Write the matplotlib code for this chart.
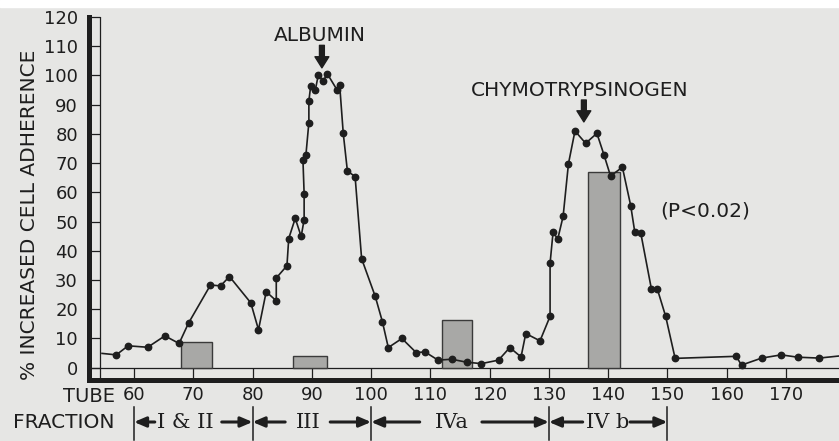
import matplotlib
matplotlib.use("Agg")
import matplotlib.pyplot as plt
from matplotlib.patches import Rectangle
from matplotlib.transforms import blended_transform_factory

plt.rcParams["font.family"] = ["DejaVu Sans"]

# ── data ─────────────────────────────────────────────────────────────────────
tube = [54.6, 57.0, 59.0, 62.3, 65.2, 67.6, 69.2, 72.9, 74.6, 76.1,
        79.7, 81.0, 82.3, 84.0, 84.0, 85.8, 86.1, 87.2, 88.2, 88.7,
        88.7, 88.5, 89.0, 89.5, 89.5, 89.8, 90.6, 91.1, 91.9, 92.6,
        94.3, 94.7, 95.3, 96.0, 97.3, 98.4, 100.7, 101.9, 102.9, 105.2,
        107.6, 109.1, 111.3, 113.6, 116.1, 118.6, 121.5, 123.4, 125.3, 126.1,
        128.5, 130.2, 130.2, 130.7, 131.5, 132.4, 133.3, 134.4, 136.2, 138.1,
        139.3, 140.4, 142.4, 143.8, 144.5, 145.5, 147.3, 148.3, 149.7, 151.3,
        161.6, 162.5, 165.9, 169.2, 172.0, 175.6, 178.9]
adherence = [4.9, 4.4, 7.5, 7.0, 10.9, 8.3, 15.3, 28.3, 28.0, 31.2,
             22.2, 13.0, 26.0, 22.9, 30.7, 34.9, 44.2, 51.1, 44.9, 50.7,
             59.5, 71.1, 72.8, 83.9, 91.3, 96.3, 95.1, 100.3, 98.0, 100.6,
             94.9, 96.6, 80.2, 67.3, 65.4, 37.3, 24.4, 15.8, 6.9, 10.0,
             5.2, 5.4, 2.6, 2.9, 1.9, 1.4, 2.6, 6.9, 3.7, 11.7,
             9.2, 17.6, 35.8, 46.3, 44.1, 51.8, 69.8, 81.0, 76.8, 80.2,
             72.8, 65.6, 68.6, 55.5, 46.3, 46.1, 26.9, 26.9, 17.6, 3.2,
             3.9, 0.9, 3.3, 4.4, 3.6, 3.3, 4.0]

# pooled fractions (bars)
bar_start  = [67.9, 86.9, 111.9, 136.6]
bar_end    = [73.2, 92.5, 117.1, 142.0]
bar_height = [8.7, 3.9, 16.5, 67.0]

yticks = list(range(0, 121, 10))
xticks = list(range(60, 171, 10))

frac_bounds = [60, 80, 100, 130, 150]
frac_labels = ["I & II", "III", "IVa", "IV b"]
frac_centers = [68.6, 89.4, 113.7, 139.9]
frac_tails = [(63.5, 74.8), (85.5, 93.1), (108.2, 118.7), (135.7, 143.7)]

INK = "#1e1e1e"
PAPER = "#e6e6e4"

# ── figure ───────────────────────────────────────────────────────────────────
fig = plt.figure(figsize=(8.39, 4.41), dpi=100, facecolor=PAPER)
fig.add_artist(Rectangle((0, 1 - 7 / 441), 1, 7 / 441, transform=fig.transFigure,
                         color="white", zorder=0))
ax = fig.add_axes([89 / 839, 1 - 380 / 441, 750 / 839, 363 / 441])
ax.set_facecolor("none")
ax.set_xlim(52.4, 178.95)
ax.set_ylim(-4.2, 120)

# bars
ax.bar(bar_start, bar_height, width=[e - s for s, e in zip(bar_start, bar_end)],
       align="edge", color="#a8a8a6", edgecolor="#3a3a3a", linewidth=1.0, zorder=2)

# adherence curve
ax.plot(tube, adherence, color=INK, lw=1.2, marker="o", ms=4.6,
        markevery=slice(1, -1), zorder=3, clip_on=False)

# ruler-style axes
for s in ["top", "right"]:
    ax.spines[s].set_visible(False)
for s in ["left", "bottom"]:
    ax.spines[s].set_linewidth(3.6)
    ax.spines[s].set_color(INK)
ax.axvline(54.3, color=INK, lw=0.9, zorder=1)
ax.axhline(0, color=INK, lw=0.9, zorder=1)

ax.set_yticks(yticks)
ax.set_yticklabels([str(v) for v in yticks])
ax.set_xticks(xticks)
ax.set_xticklabels([str(v) for v in xticks])
ax.tick_params(axis="y", direction="in", length=7.9, width=0.9, color=INK,
               pad=8, labelsize=13, labelcolor=INK)
ax.tick_params(axis="x", direction="in", length=8.9, width=0.9, color=INK,
               pad=4.5, labelsize=13, labelcolor=INK)

fig.text(30 / 839, 1 - 215 / 441, "% INCREASED CELL ADHERENCE", rotation=90,
         ha="center", va="center", fontsize=14.5, color=INK)
fig.text(63 / 839, 1 - 396 / 441, "TUBE", ha="left", va="center",
         fontsize=14, color=INK)
fig.text(13 / 839, 1 - 422 / 441, "FRACTION", ha="left", va="center",
         fontsize=14.5, color=INK)

# peak annotations
head = "simple,head_width=1.0,head_length=0.8,tail_width=0.35"
ax.text(91.4, 113.8, "ALBUMIN", ha="center", va="center", fontsize=14.5, color=INK)
ax.annotate("", xy=(91.7, 102.6), xytext=(91.7, 110.3),
            arrowprops=dict(arrowstyle=head, color=INK, shrinkA=0, shrinkB=0))
ax.text(135.2, 95.0, "CHYMOTRYPSINOGEN", ha="center", va="center",
        fontsize=14.5, color=INK)
ax.annotate("", xy=(135.9, 84.1), xytext=(135.9, 91.6),
            arrowprops=dict(arrowstyle=head, color=INK, shrinkA=0, shrinkB=0))
ax.text(156.3, 53.6, "(P<0.02)", ha="center", va="center", fontsize=14.5, color=INK)

# fraction ranges under the axis
trans = blended_transform_factory(ax.transData, ax.transAxes)
row_y = (380 - 422) / 363
for b in frac_bounds:
    ax.plot([b, b], [(380 - 407) / 363, (380 - 440) / 363], transform=trans,
            color=INK, lw=1.1, clip_on=False)
for (lo, hi), lab, c, (tl, tr) in zip(zip(frac_bounds[:-1], frac_bounds[1:]),
                                      frac_labels, frac_centers, frac_tails):
    ax.text(c, row_y, lab, transform=trans, ha="center", va="center",
            fontsize=15, family="DejaVu Serif", color=INK, clip_on=False)
    arrow = dict(arrowstyle="-|>,head_length=0.7,head_width=0.3", lw=2.2,
                 color=INK, shrinkA=0, shrinkB=0)
    ax.annotate("", xy=(lo, row_y), xytext=(tl, row_y), xycoords=trans,
                textcoords=trans, arrowprops=arrow, annotation_clip=False)
    ax.annotate("", xy=(hi, row_y), xytext=(tr, row_y), xycoords=trans,
                textcoords=trans, arrowprops=arrow, annotation_clip=False)

fig.savefig("out.png", dpi=100, facecolor=PAPER)
